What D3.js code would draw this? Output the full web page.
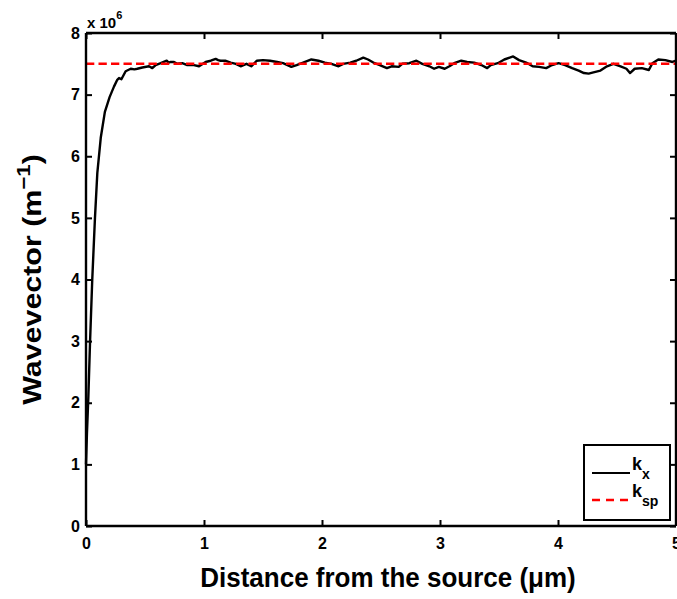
<!DOCTYPE html>
<html>
<head>
<meta charset="utf-8">
<script src="https://cdn.jsdelivr.net/npm/d3@7"></script>
<style>
  html, body { margin: 0; padding: 0; background: #fff; }
  svg { display: block; }
  text { font-family: "Liberation Sans", Arial, sans-serif; font-weight: bold; fill: #000; }
</style>
</head>
<body>
<script>
// distance from the source (um)
const kxX = [0, 0.008, 0.02, 0.034, 0.053, 0.076, 0.096, 0.125, 0.16, 0.20, 0.237, 0.265, 0.28, 0.30, 0.336, 0.379, 0.41, 0.435, 0.477, 0.534, 0.562, 0.59, 0.633, 0.684, 0.70, 0.718, 0.746, 0.774, 0.816, 0.858, 0.915, 0.958, 1.014, 1.057, 1.099, 1.12, 1.14, 1.18, 1.226, 1.27, 1.31, 1.36, 1.40, 1.447, 1.50, 1.56, 1.62, 1.67, 1.74, 1.785, 1.84, 1.91, 1.97, 2.025, 2.08, 2.14, 2.18, 2.24, 2.29, 2.35, 2.39, 2.435, 2.49, 2.55, 2.59, 2.65, 2.68, 2.74, 2.80, 2.85, 2.91, 2.95, 2.99, 3.04, 3.08, 3.12, 3.18, 3.23, 3.29, 3.35, 3.40, 3.43, 3.49, 3.545, 3.62, 3.67, 3.73, 3.785, 3.84, 3.90, 3.95, 4.005, 4.06, 4.12, 4.175, 4.22, 4.26, 4.30, 4.36, 4.415, 4.47, 4.53, 4.58, 4.61, 4.65, 4.71, 4.77, 4.80, 4.85, 4.91, 4.97, 5.0];
// wavevector k_x (x 10^6 m^-1)
const kxY = [1.0, 1.5, 2.1, 2.97, 4.0, 5.0, 5.73, 6.3, 6.72, 6.96, 7.13, 7.24, 7.27, 7.25, 7.38, 7.42, 7.41, 7.42, 7.44, 7.46, 7.43, 7.48, 7.51, 7.55, 7.52, 7.53, 7.53, 7.50, 7.51, 7.48, 7.48, 7.46, 7.53, 7.55, 7.58, 7.56, 7.55, 7.55, 7.52, 7.50, 7.46, 7.50, 7.46, 7.55, 7.56, 7.55, 7.53, 7.51, 7.45, 7.48, 7.52, 7.57, 7.55, 7.52, 7.50, 7.46, 7.50, 7.52, 7.55, 7.60, 7.57, 7.52, 7.48, 7.43, 7.46, 7.45, 7.50, 7.51, 7.55, 7.50, 7.46, 7.42, 7.45, 7.42, 7.46, 7.51, 7.55, 7.53, 7.52, 7.48, 7.43, 7.48, 7.51, 7.57, 7.62, 7.56, 7.52, 7.46, 7.45, 7.43, 7.48, 7.51, 7.48, 7.43, 7.39, 7.35, 7.34, 7.36, 7.39, 7.46, 7.50, 7.46, 7.42, 7.35, 7.42, 7.43, 7.40, 7.51, 7.57, 7.56, 7.53, 7.55];
// surface plasmon wavevector k_sp
const kspValue = 7.5;
const xTicks = [0, 1, 2, 3, 4, 5];
const yTicks = [0, 1, 2, 3, 4, 5, 6, 7, 8];
const legendLabels = [{base: "k", sub: "x"}, {base: "k", sub: "sp"}];

const W = 677, H = 599;
const svg = d3.select("body").append("svg").attr("width", W).attr("height", H);

const x = d3.scaleLinear().domain([0, 5]).range([86, 676]);
const y = d3.scaleLinear().domain([0, 8]).range([526, 33]);

// data line
const line = d3.line().x((d, i) => x(kxX[i])).y(d => y(d));
svg.append("path").datum(kxY)
  .attr("d", line)
  .attr("fill", "none").attr("stroke", "#000").attr("stroke-width", 2.4).attr("stroke-linejoin", "round");

// k_sp dashed line
svg.append("line")
  .attr("x1", x(0)).attr("x2", x(5)).attr("y1", y(kspValue)).attr("y2", y(kspValue))
  .attr("stroke", "#ff0000").attr("stroke-width", 2.5).attr("stroke-dasharray", "8.3,4.2");

// axes
const tickLen = 6;
const gx = svg.append("g").attr("transform", `translate(0,${y(0)})`)
  .call(d3.axisBottom(x).tickValues(xTicks).tickSize(-tickLen).tickPadding(12).tickFormat(d3.format("d")));
const gxTop = svg.append("g").attr("transform", `translate(0,${y(8)})`)
  .call(d3.axisTop(x).tickValues(xTicks).tickSize(-tickLen).tickFormat(""));
const gy = svg.append("g").attr("transform", `translate(${x(0)},0)`)
  .call(d3.axisLeft(y).tickValues(yTicks).tickSize(-tickLen).tickPadding(6).tickFormat(d3.format("d")));
const gyR = svg.append("g").attr("transform", `translate(${x(5)},0)`)
  .call(d3.axisRight(y).tickValues(yTicks).tickSize(-tickLen).tickFormat(""));

[gx, gxTop, gy, gyR].forEach(g => {
  g.select(".domain").attr("stroke", "#000").attr("stroke-width", 2.4);
  g.selectAll(".tick line").attr("stroke", "#000").attr("stroke-width", 2);
  g.selectAll(".tick text").attr("font-size", 16).attr("font-family", "Liberation Sans, Arial, sans-serif").attr("font-weight", "bold").attr("fill", "#000");
});
gx.select(".domain").attr("d", `M${x(0)},0H${x(5)}`);
gxTop.select(".domain").attr("d", `M${x(0)},0H${x(5)}`);
gy.select(".domain").attr("d", `M0,${y(0)}V${y(8)}`);
gyR.select(".domain").attr("d", `M0,${y(0)}V${y(8)}`);

// exponent label
const expT = svg.append("text").attr("x", 87).attr("y", 28).attr("font-size", 15);
expT.append("tspan").text("x 10");
expT.append("tspan").attr("dy", -9).attr("font-size", 11).text("6");

// x axis label
svg.append("text").attr("transform", "translate(388,587) scale(1,1.08)")
  .attr("text-anchor", "middle").attr("font-size", 26)
  .text("Distance from the source (\u03bcm)");

// y axis label
const yl = svg.append("text").attr("transform", `translate(41,${(y(0) + y(8)) / 2}) rotate(-90) scale(1.17,1)`)
  .attr("text-anchor", "middle").attr("font-size", 26);
yl.append("tspan").text("Wavevector (m");
yl.append("tspan").attr("dy", -11).attr("font-size", 19).text("\u22121");
yl.append("tspan").attr("dy", 11).text(")");

// legend
const lg = svg.append("g");
lg.append("rect").attr("x", 584).attr("y", 445).attr("width", 86).attr("height", 75)
  .attr("fill", "#fff").attr("stroke", "#000").attr("stroke-width", 2);
const rowsY = [473, 500];
lg.append("line").attr("x1", 592).attr("x2", 630).attr("y1", rowsY[0]).attr("y2", rowsY[0])
  .attr("stroke", "#000").attr("stroke-width", 2);
lg.append("line").attr("x1", 592).attr("x2", 630).attr("y1", rowsY[1]).attr("y2", rowsY[1])
  .attr("stroke", "#ff0000").attr("stroke-width", 2.5).attr("stroke-dasharray", "8,6");
legendLabels.forEach((l, i) => {
  const t = lg.append("text").attr("x", 632).attr("y", rowsY[i] - 3).attr("font-size", 18);
  t.append("tspan").text(l.base);
  t.append("tspan").attr("dy", 9).attr("font-size", 14).text(l.sub);
});
</script>
</body>
</html>
